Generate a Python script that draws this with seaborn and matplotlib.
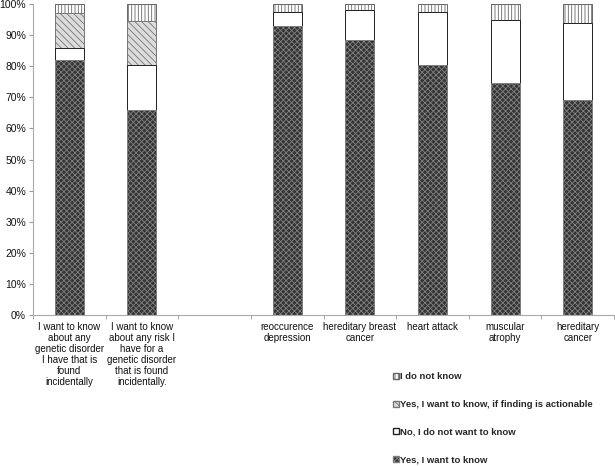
import numpy as np
import pandas as pd
import matplotlib
matplotlib.use("Agg")
import matplotlib.pyplot as plt
import seaborn as sns
from matplotlib.patches import Patch
from matplotlib.ticker import FixedLocator, PercentFormatter

categories = [
    "I want to know\nabout any\ngenetic disorder\nI have that is\nfound\nincidentally",
    "I want to know\nabout any risk I\nhave for a\ngenetic disorder\nthat is found\nincidentally.",
    " ",
    "reoccurence\ndepression",
    "hereditary breast\ncancer",
    "heart attack",
    "muscular\natrophy",
    "hereditary\ncancer",
]
yes_know = [82, 66, np.nan, 93, 88.5, 80.5, 74.5, 69]
no_know = [4, 14.5, np.nan, 4.5, 9.5, 17, 20.5, 25]
actionable = [11, 14, np.nan, 0, 0, 0, 0, 0]
dont_know = [3, 5.5, np.nan, 2.5, 2, 2.5, 5, 6]
series_names = ["Yes, I want to know", "No, I do not want to know",
                "Yes, I want to know, if finding is actionable", "I do not know"]

sns.set_style("white")
plt.rcParams["font.family"] = ["Liberation Sans", "DejaVu Sans"]
plt.rcParams["hatch.linewidth"] = 0.6

fig = plt.figure(figsize=(6.15, 4.66), dpi=100)
ax = fig.add_axes([33 / 615, 1 - 315 / 466, 581 / 615, 311 / 466])

y = np.array(yes_know)
n = np.array(no_know)
a = np.array(actionable)
d = np.array(dont_know)
layers = [
    (y + n + a + d, "white", "#666666", "|||||"),
    (y + n + a, "#dcdcdc", "#777777", "\\\\\\\\\\"),
    (y + n, "white", "#222222", None),
    (y, "#353535", "#808080", "xxxxxx"),
]
for vals, fc, ec, hatch in layers:
    df = pd.DataFrame({"cat": categories, "val": vals})
    before = len(ax.patches)
    sns.barplot(data=df, x="cat", y="val", order=categories, color=fc,
                width=0.4, errorbar=None, ax=ax, saturation=1,
                edgecolor=ec, linewidth=0.7)
    for p in ax.patches[before:]:
        p.set_facecolor(fc)
        p.set_edgecolor(ec)
        if hatch:
            p.set_hatch(hatch)

ax.set_ylim(0, 100)
ax.set_xlim(-0.5, 7.5)
ax.yaxis.set_major_locator(FixedLocator(np.arange(0, 101, 10)))
ax.yaxis.set_major_formatter(PercentFormatter(decimals=0))
ax.set_xlabel("")
ax.set_ylabel("")
ax.set_xticks(range(len(categories)))
ax.set_xticklabels(categories, fontsize=7.0, linespacing=1.13, color="#111111",
                   multialignment="center")
ax.xaxis.set_minor_locator(FixedLocator(np.arange(-0.5, 8, 1)))
ax.tick_params(axis="x", which="major", length=0, pad=5)
ax.tick_params(axis="x", which="minor", length=3, color="#999999", direction="out", bottom=True)
ax.tick_params(axis="y", length=3, color="#999999", direction="out", left=True,
               labelsize=7.5, labelcolor="#111111", pad=2)
for s in ["top", "right"]:
    ax.spines[s].set_visible(False)
for s in ["left", "bottom"]:
    ax.spines[s].set_color("#aaaaaa")
    ax.spines[s].set_linewidth(0.8)

handles = [
    Patch(facecolor="white", edgecolor="#666666", hatch="|||||", label=series_names[3]),
    Patch(facecolor="#dcdcdc", edgecolor="#777777", hatch="\\\\\\\\\\", label=series_names[2]),
    Patch(facecolor="white", edgecolor="#222222", label=series_names[1]),
    Patch(facecolor="#353535", edgecolor="#808080", hatch="xxxxxx", label=series_names[0]),
]
fig.legend(handles=handles, loc="upper left", bbox_to_anchor=(393 / 615, 1 - 372 / 466),
           frameon=False, prop={"weight": "bold", "size": 6.8},
           handlelength=0.6, handleheight=0.6, handletextpad=0.15,
           labelspacing=2.0, borderaxespad=0, borderpad=0)

fig.savefig("out.png", dpi=100)
